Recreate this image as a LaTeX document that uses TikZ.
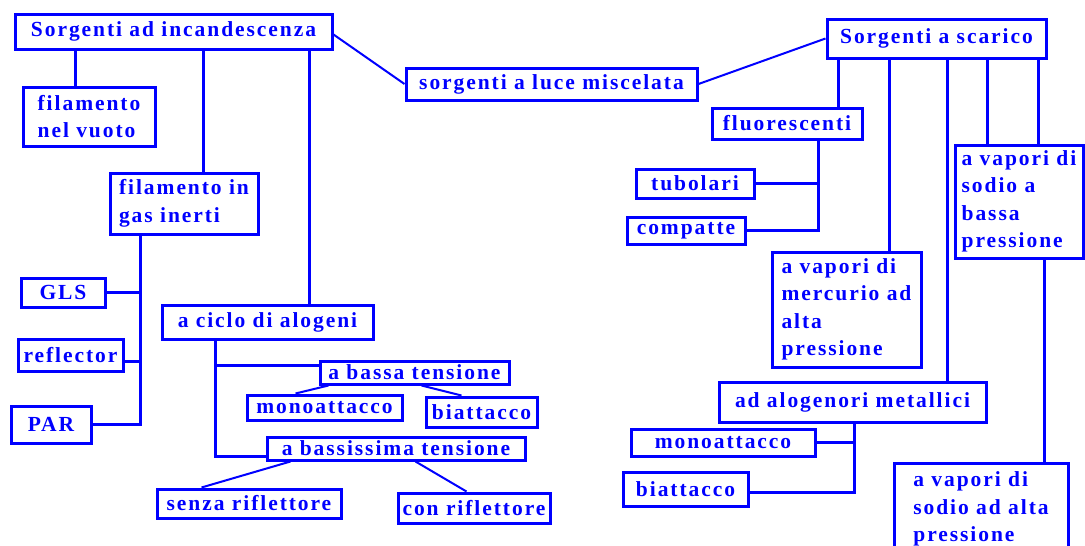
\documentclass[tikz,border=0pt]{standalone}
\usepackage{fontspec}
\newfontfamily\diafont{Liberation Serif}[LetterSpace=9]
\usetikzlibrary{calc}
\definecolor{dblue}{RGB}{0,0,255}
\begin{document}
\begin{tikzpicture}[x=1pt,y=-1pt,
  box/.style={draw=dblue, line width=3pt, text=dblue, inner sep=0pt, align=left,
    font=\diafont\bfseries\fontsize{21.5}{27.5}\selectfont},
  link/.style={draw=dblue, line width=3pt},
  thinlink/.style={draw=dblue, line width=2pt}]
\fill[white] (0,0) rectangle (1085,546);
\useasboundingbox (0,0) rectangle (1085,546);

% left part
\node[box, minimum width=317pt, minimum height=35pt] (inc) at (173.5,31.5) {Sorgenti ad incandescenza};
\node[box, minimum width=132pt, minimum height=59pt] (fnv) at (89,116.5) {filamento\\nel vuoto};
\node[box, minimum width=148pt, minimum height=61pt] (fgi) at (184,203.5) {filamento in\\gas inerti};
\node[box, minimum width=84pt, minimum height=29pt] (gls) at (63,292.5) {GLS};
\node[box, minimum width=105pt, minimum height=32pt] (refl) at (70.5,355) {reflector};
\node[box, minimum width=80pt, minimum height=37pt] (par) at (51,424.5) {PAR};
\node[box, minimum width=211pt, minimum height=34pt] (cic) at (267.5,322) {a ciclo di alogeni};
\node[box, minimum width=189pt, minimum height=23pt] (bas) at (414.5,372.5) {a bassa tensione};
\node[box, minimum width=155pt, minimum height=25pt] (mon1) at (324.5,407.5) {monoattacco};
\node[box, minimum width=111pt, minimum height=30pt] (bia1) at (481.5,412) {biattacco};
\node[box, minimum width=258pt, minimum height=23pt] (bss) at (396,448.5) {a bassissima tensione};
\node[box, minimum width=184pt, minimum height=29pt] (sen) at (249,503.5) {senza riflettore};
\node[box, minimum width=152pt, minimum height=30pt] (con) at (474,508) {con riflettore};

% middle
\node[box, minimum width=291pt, minimum height=32pt] (mis) at (551.5,84) {sorgenti a luce miscelata};

% right part
\node[box, minimum width=219pt, minimum height=39pt] (sca) at (936.5,38.5) {Sorgenti a scarico};
\node[box, minimum width=150pt, minimum height=31pt] (flu) at (787,123.5) {fluorescenti};
\node[box, minimum width=118pt, minimum height=29pt] (tub) at (695,183.5) {tubolari};
\node[box, minimum width=118pt, minimum height=27pt] (comp) at (686,230.5) {compatte};
\node[box, minimum width=149pt, minimum height=115pt] (mer) at (846.5,309.5) {a vapori di\\mercurio ad\\alta\\pressione};
\node[box, minimum width=128pt, minimum height=113pt] (sb) at (1019,201.5) {a vapori di\\sodio a\\bassa\\pressione};
\node[box, minimum width=267pt, minimum height=40pt] (alo) at (852.5,402) {ad alogenori metallici};
\node[box, minimum width=184pt, minimum height=27pt] (mon2) at (723,442.5) {monoattacco};
\node[box, minimum width=125pt, minimum height=34pt] (bia2) at (685.5,489) {biattacco};
\node[box, minimum width=174pt, minimum height=92pt] (sa) at (981,509) {a vapori di\\sodio ad alta\\pressione};

% helper x positions of connectors
\coordinate (x75) at (75,0);
\coordinate (x140) at (140,0);
\coordinate (x203) at (203,0);
\coordinate (x215) at (215,0);
\coordinate (x309) at (309,0);
\coordinate (x818) at (818,0);
\coordinate (x838) at (838,0);
\coordinate (x854) at (854,0);
\coordinate (x889) at (889,0);
\coordinate (x947) at (947,0);
\coordinate (x987) at (987,0);
\coordinate (x1038) at (1038,0);
\coordinate (x1044) at (1044,0);

% left connectors
\draw[link] (inc.south -| x75) -- (fnv.north -| x75);
\draw[link] (inc.south -| x203) -- (fgi.north -| x203);
\draw[link] (inc.south -| x309) -- (cic.north -| x309);
\draw[link] (fgi.south -| x140) -- (par.east -| x140) -- (par.east);
\draw[link] (gls.east) -- (gls.east -| x140);
\draw[link] ([yshift=-6pt]refl.east) -- ++(17,0);
\draw[link] (cic.south -| x215) |- ([yshift=-8pt]bss.west);
\draw[link] ([yshift=7.5pt]bas.west) -- ++(-105,0);
\draw[thinlink] ([xshift=10pt]bas.south west) -- ([xshift=50pt]mon1.north west);
\draw[thinlink] ([xshift=103pt]bas.south west) -- ([xshift=37pt]bia1.north west);
\draw[thinlink] ([xshift=25pt]bss.south west) -- ([xshift=46pt]sen.north west);
\draw[thinlink] ([xshift=150pt]bss.south west) -- ([xshift=70pt]con.north west);

% middle connectors
\draw[thinlink] ([yshift=-3pt]inc.east) -- (mis.west);
\draw[thinlink] (mis.east) -- (sca.west);

% right connectors
\draw[link] (sca.south -| x838) -- (flu.north -| x838);
\draw[link] (sca.south -| x889) -- (mer.north -| x889);
\draw[link] (sca.south -| x947) -- (alo.north -| x947);
\draw[link] (sca.south -| x987) -- (sb.north -| x987);
\draw[link] (sca.south -| x1038) -- (sb.north -| x1038);
\draw[link] (flu.south -| x818) |- (comp.east);
\draw[link] (tub.east) -- (tub.east -| x818);
\draw[link] (sb.south -| x1044) -- (sa.north -| x1044);
\draw[link] (alo.south -| x854) |- ([yshift=-3pt]bia2.east);
\draw[link] (mon2.east) -- (mon2.east -| x854);
\end{tikzpicture}
\end{document}
